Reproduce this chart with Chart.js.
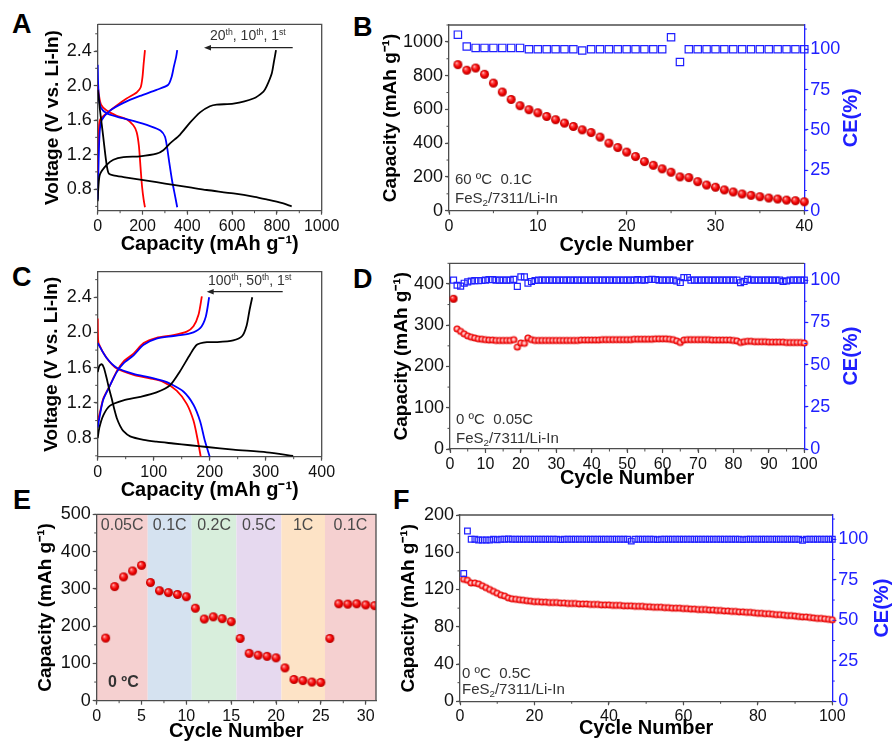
<!DOCTYPE html>
<html>
<head>
<meta charset="utf-8">
<script src="https://cdn.jsdelivr.net/npm/chart.js@4.4.0/dist/chart.umd.min.js"></script>
<style>
  html, body { margin: 0; padding: 0; background: #fff; overflow: hidden; }
  #fig { position: relative; width: 893px; height: 744px; font-family: 'Liberation Sans', Arial, sans-serif; }
  #fig canvas { position: absolute; }
  .lab { position: absolute; font-weight: bold; font-size: 27px; line-height: 27px; color: #000; }
  .note { position: absolute; font-size: 15px; line-height: 15px; color: #333; white-space: nowrap; }
  .small { font-size: 14px; line-height: 14px; }
  .sup { font-size: 0.62em; position: relative; top: -0.55em; }
  .sub { font-size: 0.65em; position: relative; top: 0.3em; }
</style>
</head>
<body>
<div id="fig">
  <div class="lab" style="left:12px;top:11px">A</div>
  <div class="lab" style="left:353px;top:14px">B</div>
  <div class="lab" style="left:12px;top:264px">C</div>
  <div class="lab" style="left:353px;top:266px">D</div>
  <div class="lab" style="left:13px;top:487px">E</div>
  <div class="lab" style="left:393px;top:487px">F</div>
</div>
<script>
// ---------- data ----------
// A: voltage profiles at 60 C, [capacity mAh/g, voltage V]
const aFirstDis = [[0,1.95],[5,1.85],[10,1.72],[18,1.55],[25,1.40],[33,1.22],[42,1.05],[50,0.98],[70,0.96],[115,0.94],[189,0.91],[263,0.88],[338,0.85],[412,0.82],[487,0.79],[606,0.75],[700,0.71],[754,0.68],[820,0.64],[866,0.60]];
const aFirstChg = [[0,0.66],[3,0.82],[10,0.97],[40,1.08],[70,1.14],[115,1.17],[189,1.18],[263,1.21],[293,1.25],[323,1.33],[367,1.43],[412,1.57],[457,1.69],[501,1.76],[531,1.78],[606,1.79],[695,1.85],[740,1.93],[754,1.99],[777,2.14],[787,2.28],[796,2.41]];
const aTenthDis = [[0,2.24],[2,2.02],[6,1.84],[15,1.74],[40,1.68],[85,1.64],[159,1.59],[234,1.53],[280,1.48],[300,1.41],[310,1.28],[320,1.10],[332,0.90],[344,0.74],[355,0.59]];
const aTenthChg = [[0,0.68],[3,1.0],[6,1.3],[10,1.5],[18,1.60],[55,1.71],[115,1.80],[189,1.88],[263,1.95],[315,2.01],[330,2.10],[340,2.22],[350,2.33],[355,2.41]];
const aTwentiethDis = [[0,2.01],[5,1.90],[15,1.78],[40,1.71],[85,1.65],[129,1.61],[159,1.54],[174,1.46],[184,1.30],[191,1.06],[198,0.83],[205,0.68],[211,0.59]];
const aTwentiethChg = [[0,0.98],[2,1.2],[5,1.45],[10,1.60],[40,1.68],[85,1.77],[129,1.85],[174,1.92],[192,1.98],[200,2.10],[205,2.25],[211,2.41]];
const aCapTicks = [0, 200, 400, 600, 800, 1000];
const aVoltTicks = [0.8, 1.2, 1.6, 2.0, 2.4];

// B: cycling at 60 C, 0.1C
const bCapacity = [865,832,845,808,756,703,659,622,598,580,558,539,519,499,479,463,436,400,374,347,321,291,269,248,228,200,196,172,152,139,123,111,99,91,83,75,69,63,59,53];
const bCE = [109,101.7,100.8,100.8,100.8,100.8,100.8,100.8,100,100,100,100,100,100,99.2,100,100,100,100,100,100,100,100,100,107.4,92.1,100,100,100,100,100,100,100,100,100,100,100,100,100,100];
const bCycleTicks = [0, 10, 20, 30, 40];
const bCapTicks = [0, 200, 400, 600, 800, 1000];

// C: voltage profiles at 0 C
const cFirstDis = [[0,1.55],[3,1.62],[7,1.64],[11,1.60],[16,1.48],[20,1.37],[25,1.25],[30,1.12],[34,1.03],[40,0.94],[46,0.88],[58,0.82],[82,0.78],[105,0.76],[135,0.74],[165,0.72],[195,0.70],[242,0.67],[302,0.64],[349,0.60]];
const cFirstChg = [[0,0.80],[3,0.92],[10,1.06],[22,1.17],[46,1.23],[76,1.27],[105,1.32],[129,1.40],[147,1.56],[165,1.75],[177,1.86],[195,1.89],[213,1.89],[242,1.91],[258,1.96],[266,2.08],[271,2.25],[276,2.40]];
const cFiftiethDis = [[0,1.88],[16,1.71],[34,1.60],[64,1.53],[93,1.49],[117,1.45],[129,1.42],[153,1.33],[171,1.18],[183,0.99],[191,0.78],[200,0.59]];
const cFiftiethChg = [[0,0.92],[5,1.10],[10,1.24],[22,1.40],[34,1.55],[46,1.65],[64,1.74],[82,1.86],[105,1.93],[135,1.96],[165,1.99],[183,2.05],[193,2.18],[199,2.40]];
const cHundredthDis = [[0,2.16],[0.5,1.95],[2,1.87],[16,1.71],[34,1.59],[64,1.52],[93,1.48],[117,1.44],[141,1.34],[159,1.19],[171,1.00],[178,0.80],[184,0.59]];
const cHundredthChg = [[0,0.99],[5,1.12],[10,1.25],[22,1.40],[34,1.56],[46,1.67],[64,1.76],[82,1.88],[105,1.94],[135,1.97],[159,2.01],[171,2.07],[180,2.20],[186,2.41]];
const cCapTicks = [0, 100, 200, 300, 400];
const cVoltTicks = [0.8, 1.2, 1.6, 2.0, 2.4];

// D: cycling at 0 C, 0.05C
const dCapacity = [
  364,291,285,279,274,271,269,267,266,265,
  264,264,263,263,263,263,263,265,247,257,
  256,269,265,263,263,263,263,263,263,263,
  263,263,263,263,263,263,264,264,264,264,
  264,264,265,265,265,265,265,265,265,265,
  265,266,266,266,266,266,266,267,267,267,
  267,266,265,262,258,264,265,265,265,265,
  265,265,265,264,264,264,264,264,264,263,
  262,258,260,261,261,260,260,260,260,259,
  259,259,259,259,258,258,258,258,258,257];
const dCE = [
  100,97,96.5,98.2,99,99.5,99.7,99.7,99.8,100,
  100.4,100.3,100,100,100,100,100,100.5,96.3,102,
  102,98.2,99.2,99.8,100,100,100,100,100,100,
  100,100,100,100,100,100,100,100,100,100,
  100,100,100,100,100,100,100,100,100,100,
  100,100,100.4,100,100,100.4,100.5,100.4,100,100,
  100,100,100,99.5,98.6,101.5,101.6,100,100,100,
  100,100,100,100,100,100,100,100,100,100,
  100,98.5,99.3,100.5,100,100,100,100,100,100,
  100,100,100,99.2,99.6,100,100,100,100,100];
const dCycleTicks = [0,10,20,30,40,50,60,70,80,90,100];
const dCapTicks = [0, 100, 200, 300, 400];

// E: rate capability at 0 C
const eCapacity = [168,306,332,348,363,317,295,290,285,279,248,219,225,220,212,167,127,122,119,115,88,57,54,50,49,167,260,259,260,257,255];
const eBandStart = [0, 5.69, 10.6, 15.58, 20.6, 25.46];
const eBandEnd = [5.69, 10.6, 15.58, 20.6, 25.46, 31.15];
const eBandLabels = ['0.05C', '0.1C', '0.2C', '0.5C', '1C', '0.1C'];
const eBandColors = ['#f5d0d0', '#d5e2f0', '#d8eedc', '#e6d9ef', '#fde3c6', '#f5d0d0'];
const eCycleTicks = [0, 5, 10, 15, 20, 25, 30];
const eCapTicks = [0, 100, 200, 300, 400, 500];

// F: cycling at 0 C, 0.5C
const fCapacity = [
  131,130,127,127,126,124,122,120,118,116,
  114,113,111,110,109.5,109,108.5,108,107.5,107,
  107,106.5,106.5,106,106,106,105.5,105.5,105,105,
  105,104.5,104.5,104.5,104,104,104,103.5,103.5,103.5,
  103,103,103,102.5,102.5,102.5,102,102,102,101.5,
  101.5,101,101,101,100.5,100.5,100,100,100,99.5,
  99.5,99,99,98.5,98.5,98.5,98,98,97.5,97.5,
  97,97,96.5,96.5,96,96,95.5,95.5,95,94.5,
  94.5,94,94,93.5,93,93,92.5,92,92,91.5,
  91,90.5,90.5,90,89.5,89,89,88.5,88,87.5];
const fCE = [
  78.9,105.1,100,100,99.6,99.6,99.6,99.6,100,99.7,
  100,100,100.2,100,100,100,100,100,100,100,
  100,100,100,100,100,100,99.8,100,100,100,
  100,100,100,100,100,100,100,100,100,100,
  100,100,100,100,100,98.9,100,100,100,100,
  100,100,99.8,100,100,100,100,100,100,100,
  100,100,100,100,100,100,100,100,100,100,
  100,100,100,100,100,99.8,100,100,100,100,
  100,100,100,100,100,100,100,100,100,100,
  100,99.3,100,100,100,100,100,100,100,100];
const fCycleTicks = [0, 20, 40, 60, 80, 100];
const fCapTicks = [0, 40, 80, 120, 160, 200];

const ceTicks = [0, 25, 50, 75, 100];

// ---------- styling helpers ----------
const AXIS = '#4d4d4d';
const BLUE = '#2020ff';
const FONT = "'Liberation Sans', Arial, sans-serif";
Chart.defaults.font.family = FONT;
Chart.defaults.color = '#111';
const fig = document.getElementById('fig');

function sphere(r, small) {
  const s = Math.ceil(2 * r + 2);
  const c = document.createElement('canvas');
  c.width = c.height = s;
  const g = c.getContext('2d');
  const m = s / 2;
  let grad;
  if (small) {
    grad = g.createRadialGradient(m - r * 0.1, m - r * 0.1, 0, m, m, r);
    grad.addColorStop(0, '#ffe6e6');
    grad.addColorStop(0.35, '#ffb0b0');
    grad.addColorStop(0.65, '#ff2020');
    grad.addColorStop(1, '#d40000');
  } else {
    grad = g.createRadialGradient(m - r * 0.35, m - r * 0.4, 0, m, m, r);
    grad.addColorStop(0, '#fff0f0');
    grad.addColorStop(0.25, '#ff5a5a');
    grad.addColorStop(0.65, '#f00000');
    grad.addColorStop(1, '#b00000');
  }
  g.fillStyle = grad;
  g.beginPath();
  g.arc(m, m, r, 0, Math.PI * 2);
  g.fill();
  return c;
}
const bigBall = sphere(4.5, false);
const midBall = sphere(4, false);
const smallBall = sphere(3.6, true);

function minors(min, max, step) {
  const out = [];
  for (let k = Math.ceil(min / step - 1e-9); k * step <= max + 1e-9; k++) out.push(k * step);
  return out;
}

function linAxis(o) {
  const horiz = o.pos === 'bottom';
  const col = o.color || AXIS;
  return {
    type: 'linear', position: o.pos, min: o.min, max: o.max,
    afterBuildTicks: s => { s.ticks = o.ticks.map(v => ({ value: v })); },
    afterFit: s => {
      if (horiz) s.height = o.size; else s.width = o.size;
      s.paddingLeft = s.paddingRight = s.paddingTop = s.paddingBottom = 0;
    },
    ticks: {
      autoSkip: false, maxRotation: 0, padding: 2,
      color: o.color || '#111',
      font: { size: horiz ? 16 : 18 },
      callback: o.fmt || (v => String(v))
    },
    grid: { drawOnChartArea: false, tickLength: 4, tickColor: col, tickWidth: 1.2 },
    border: { color: col, width: 1.3 },
    title: o.title
      ? { display: true, text: o.title, color: '#000', padding: 4, font: { size: horiz ? 20 : 19, weight: 'bold' } }
      : { display: false }
  };
}

function decor(o) {
  return {
    id: 'decor',
    beforeDraw(chart) {
      if (!o.bands) return;
      const ctx = chart.ctx, a = chart.chartArea, x = chart.scales.x;
      ctx.save();
      eBandStart.forEach((s, i) => {
        const x0 = x.getPixelForValue(s), x1 = x.getPixelForValue(eBandEnd[i]);
        ctx.fillStyle = eBandColors[i];
        ctx.fillRect(x0, a.top, x1 - x0, a.bottom - a.top);
      });
      ctx.font = '16px ' + FONT;
      ctx.fillStyle = '#4a4a4a';
      ctx.textAlign = 'center';
      ctx.textBaseline = 'middle';
      eBandStart.forEach((s, i) => {
        const x0 = x.getPixelForValue(s), x1 = x.getPixelForValue(eBandEnd[i]);
        ctx.fillText(eBandLabels[i], (x0 + x1) / 2, a.top + 11);
      });
      ctx.restore();
    },
    afterDraw(chart) {
      const ctx = chart.ctx, a = chart.chartArea;
      ctx.save();
      ctx.strokeStyle = AXIS;
      ctx.lineWidth = 1.3;
      ctx.beginPath();
      ctx.moveTo(a.left, a.top);
      ctx.lineTo(a.right, a.top);
      if (!o.twin) ctx.lineTo(a.right, a.bottom);
      ctx.stroke();
      for (const [id, vals] of Object.entries(o.minor)) {
        const s = chart.scales[id];
        ctx.strokeStyle = id === 'y1' ? BLUE : AXIS;
        ctx.lineWidth = 1;
        ctx.beginPath();
        for (const v of vals) {
          const p = s.getPixelForValue(v);
          if (id === 'x') { ctx.moveTo(p, a.bottom); ctx.lineTo(p, a.bottom + 2.5); }
          else if (id === 'y') { ctx.moveTo(a.left - 2.5, p); ctx.lineTo(a.left, p); }
          else { ctx.moveTo(a.right, p); ctx.lineTo(a.right + 2.5, p); }
        }
        ctx.stroke();
      }
      if (o.twin) {
        ctx.translate(a.right + o.ceOffset, (a.top + a.bottom) / 2);
        ctx.rotate(-Math.PI / 2);
        ctx.font = 'bold 20px ' + FONT;
        ctx.fillStyle = BLUE;
        ctx.textAlign = 'center';
        ctx.textBaseline = 'middle';
        ctx.fillText('CE(%)', 0, 0);
      }
      ctx.restore();
    }
  };
}

function makeChart(rect, plot, L, B, R, scales, datasets, deco) {
  const cv = document.createElement('canvas');
  cv.width = rect.w;
  cv.height = rect.h;
  cv.style.left = rect.x + 'px';
  cv.style.top = rect.y + 'px';
  fig.appendChild(cv);
  return new Chart(cv, {
    type: 'scatter',
    data: { datasets },
    options: {
      responsive: false, animation: false, events: [],
      layout: { padding: {
        left: plot.l - rect.x - L, top: plot.t - rect.y,
        right: rect.x + rect.w - plot.r - R, bottom: rect.y + rect.h - plot.b - B } },
      plugins: { legend: { display: false }, tooltip: { enabled: false } },
      scales
    },
    plugins: [decor(deco)]
  });
}

const pts = arr => arr.map(([x, y]) => ({ x, y }));
const series = ys => ys.map((y, i) => ({ x: i + 1, y }));
function curve(arr, color) {
  return { data: pts(arr), showLine: true, borderColor: color, borderWidth: 1.8, pointRadius: 0, tension: 0.25, fill: false };
}
function balls(ys, img, r) {
  return { data: series(ys), pointStyle: img, pointRadius: r, showLine: false, order: 1, clip: false };
}
function squares(ys, r) {
  return { data: series(ys), pointStyle: 'rect', pointRadius: r, borderColor: BLUE, borderWidth: 1.2,
           backgroundColor: 'rgba(0,0,0,0)', showLine: false, yAxisID: 'y1', order: 0, clip: false };
}
const CAP_TITLE = 'Capacity (mAh g\u207B\u00B9)';
const V_TITLE = 'Voltage (V vs. Li-In)';
const fmt1 = v => v.toFixed(1);

// ---------- A ----------
makeChart({ x: 0, y: 0, w: 345, h: 262 }, { l: 97.7, t: 24.3, r: 321.7, b: 210.7 }, 60.6, 49.3, 0, {
  x: linAxis({ pos: 'bottom', min: 0, max: 1000, ticks: aCapTicks, size: 49.3, title: CAP_TITLE }),
  y: linAxis({ pos: 'left', min: 0.55, max: 2.71, ticks: aVoltTicks, size: 60.6, fmt: fmt1, title: V_TITLE })
}, [
  curve(aFirstDis, '#000'), curve(aFirstChg, '#000'),
  curve(aTenthDis, '#0000ff'), curve(aTenthChg, '#0000ff'),
  curve(aTwentiethDis, '#ff0000'), curve(aTwentiethChg, '#ff0000')
], { minor: { x: minors(0, 1000, 100), y: minors(0.55, 2.71, 0.2) } });

// ---------- B ----------
makeChart({ x: 340, y: 0, w: 553, h: 262 }, { l: 449, t: 25, r: 804.3, b: 210.7 }, 73.4, 50.8, 45, {
  x: linAxis({ pos: 'bottom', min: 0, max: 40, ticks: bCycleTicks, size: 50.8, title: 'Cycle Number' }),
  y: linAxis({ pos: 'left', min: 0, max: 1100, ticks: bCapTicks, size: 73.4, title: CAP_TITLE }),
  y1: linAxis({ pos: 'right', min: 0, max: 115, ticks: ceTicks, size: 45, color: BLUE })
}, [balls(bCapacity, bigBall, 4.5), squares(bCE, 5.2)],
{ twin: true, ceOffset: 47.2, minor: { x: minors(0, 40, 5), y: minors(0, 1100, 100), y1: minors(0, 115, 12.5) } });

// ---------- C ----------
makeChart({ x: 0, y: 250, w: 345, h: 262 }, { l: 97.7, t: 271.7, r: 321.7, b: 456.7 }, 61.6, 49.8, 0, {
  x: linAxis({ pos: 'bottom', min: 0, max: 400, ticks: cCapTicks, size: 49.8, title: CAP_TITLE }),
  y: linAxis({ pos: 'left', min: 0.59, max: 2.69, ticks: cVoltTicks, size: 61.6, fmt: fmt1, title: V_TITLE })
}, [
  curve(cFirstDis, '#000'), curve(cFirstChg, '#000'),
  curve(cFiftiethDis, '#0000ff'), curve(cFiftiethChg, '#0000ff'),
  curve(cHundredthDis, '#ff0000'), curve(cHundredthChg, '#ff0000')
], { minor: { x: minors(0, 400, 50), y: minors(0.59, 2.69, 0.2) } });

// ---------- D ----------
const dBalls = balls(dCapacity, smallBall, 3.6);
dBalls.pointStyle = c => (c.dataIndex === 0 ? midBall : smallBall);
makeChart({ x: 340, y: 250, w: 553, h: 250 }, { l: 450, t: 263.3, r: 804.3, b: 449 }, 63.9, 45, 45, {
  x: linAxis({ pos: 'bottom', min: 0, max: 100, ticks: dCycleTicks, size: 45, title: 'Cycle Number' }),
  y: linAxis({ pos: 'left', min: 0, max: 450, ticks: dCapTicks, size: 63.9, title: CAP_TITLE }),
  y1: linAxis({ pos: 'right', min: 0, max: 110, ticks: ceTicks, size: 45, color: BLUE })
}, [dBalls, squares(dCE, 4.2)],
{ twin: true, ceOffset: 47.2, minor: { x: minors(0, 100, 5), y: minors(0, 450, 50), y1: minors(0, 110, 12.5) } });

// ---------- E ----------
makeChart({ x: 0, y: 490, w: 395, h: 260 }, { l: 96.7, t: 514.3, r: 376, b: 700.7 }, 66.1, 46.8, 0, {
  x: linAxis({ pos: 'bottom', min: 0, max: 31.15, ticks: eCycleTicks, size: 46.8, title: 'Cycle Number' }),
  y: linAxis({ pos: 'left', min: 0, max: 500, ticks: eCapTicks, size: 66.1, title: CAP_TITLE })
}, [Object.assign(balls(eCapacity, bigBall, 4.5), { clip: undefined })],
{ bands: true, minor: { x: minors(0, 31.15, 2.5), y: minors(0, 500, 50) } });

// ---------- F ----------
makeChart({ x: 380, y: 490, w: 520, h: 260 }, { l: 460, t: 515, r: 832.3, b: 701.3 }, 66.4, 43.5, 45, {
  x: linAxis({ pos: 'bottom', min: 0, max: 100, ticks: fCycleTicks, size: 43.5, title: 'Cycle Number' }),
  y: linAxis({ pos: 'left', min: 0, max: 200, ticks: fCapTicks, size: 66.4, title: CAP_TITLE }),
  y1: linAxis({ pos: 'right', min: 0, max: 115, ticks: ceTicks, size: 45, color: BLUE })
}, [balls(fCapacity, smallBall, 3.6), squares(fCE, 4)],
{ twin: true, ceOffset: 50.2, minor: { x: minors(0, 100, 10), y: minors(0, 200, 20), y1: minors(0, 115, 12.5) } });

// ---------- text overlays ----------
fig.insertAdjacentHTML('beforeend', `
  <div class="note small" style="left:210px;top:28px">20<span class="sup">th</span>, 10<span class="sup">th</span>, 1<span class="sup">st</span></div>
  <div class="note small" style="left:208px;top:273px">100<span class="sup">th</span>, 50<span class="sup">th</span>, 1<span class="sup">st</span></div>
  <div class="note" style="left:455px;top:171px">60 ºC&nbsp; 0.1C</div>
  <div class="note" style="left:455px;top:190px">FeS<span class="sub">2</span>/7311/Li-In</div>
  <div class="note" style="left:456px;top:411px">0 ºC&nbsp; 0.05C</div>
  <div class="note" style="left:456px;top:430px">FeS<span class="sub">2</span>/7311/Li-In</div>
  <div class="note" style="left:462px;top:665px">0 ºC&nbsp; 0.5C</div>
  <div class="note" style="left:462px;top:681px">FeS<span class="sub">2</span>/7311/Li-In</div>
  <div class="note" style="left:108px;top:674px;font-weight:bold;font-size:16px;line-height:16px">0 ºC</div>
  <svg style="position:absolute;left:0;top:0;pointer-events:none" width="893" height="744">
    <g stroke="#222" stroke-width="1.2" fill="#222">
      <line x1="209" y1="47.7" x2="292.7" y2="47.7"/>
      <polygon points="204,47.7 211,45 211,50.4" stroke="none"/>
      <line x1="211.7" y1="291.7" x2="282.7" y2="291.7"/>
      <polygon points="206.7,291.7 213.7,289 213.7,294.4" stroke="none"/>
    </g>
  </svg>`);
</script>
</body>
</html>
